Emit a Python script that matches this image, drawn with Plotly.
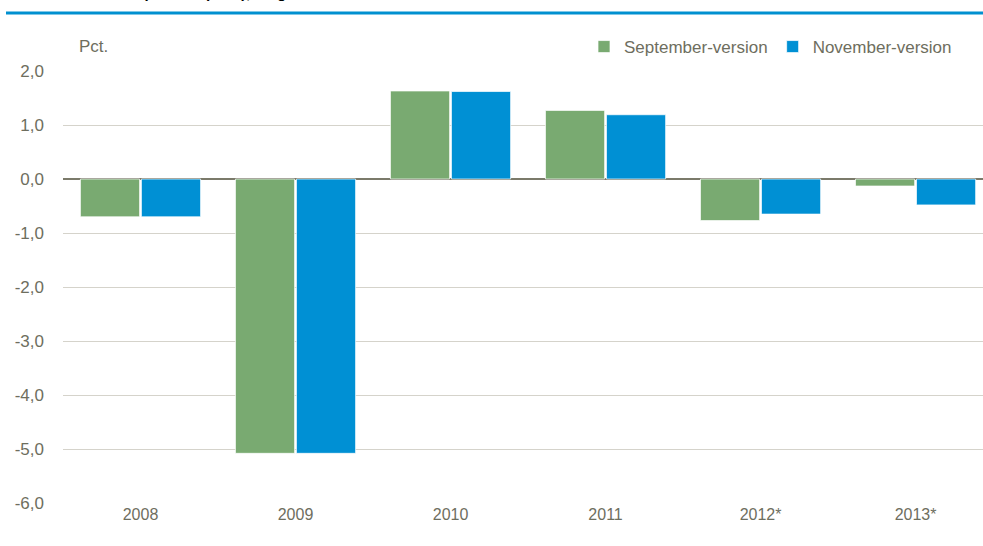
import plotly.graph_objects as go

categories = ["2008", "2009", "2010", "2011", "2012*", "2013*"]
september = [-0.70, -5.08, 1.63, 1.27, -0.77, -0.13]
november = [-0.70, -5.08, 1.62, 1.19, -0.65, -0.48]
y_ticks = [2, 1, 0, -1, -2, -3, -4, -5, -6]
y_tick_labels = ["2,0", "1,0", "0,0", "-1,0", "-2,0", "-3,0", "-4,0", "-5,0", "-6,0"]

GREEN = "#79AA71"
BLUE = "#0090D4"
TXT = "#6E6E5E"
FONT = "Liberation Sans Narrow, Arial Narrow, Liberation Sans, Arial, sans-serif"

fig = go.Figure()
fig.add_trace(go.Bar(x=categories, y=september, name="September-version",
                     marker=dict(color=GREEN, line=dict(color="rgba(255,255,255,0.7)", width=1))))
fig.add_trace(go.Bar(x=categories, y=november, name="November-version",
                     marker=dict(color=BLUE, line=dict(color="rgba(255,255,255,0.7)", width=1))))

fig.update_layout(
    width=983, height=546,
    margin=dict(l=63, r=0, t=71, b=43),
    paper_bgcolor="white", plot_bgcolor="white",
    barmode="group", bargap=0.213, bargroupgap=0.03,
    font=dict(family=FONT, color=TXT, size=16),
    showlegend=True,
    legend=dict(orientation="h", x=(584 - 63) / 920, xanchor="left", y=1 + (71 - 47) / 432, yanchor="middle",
                font=dict(size=17, color=TXT), traceorder="normal", entrywidthmode="pixels",
                bgcolor="rgba(0,0,0,0)"),
    xaxis=dict(range=[-0.5, 5.435], showgrid=False, showline=False, ticks="",
               tickfont=dict(size=16, color=TXT), fixedrange=True),
    yaxis=dict(range=[-6, 2], tickvals=y_ticks, ticktext=y_tick_labels,
               showgrid=True, gridcolor="#D5D3CB", gridwidth=1,
               zeroline=True, zerolinecolor="#7B7A6A", zerolinewidth=2,
               showline=False, ticks="", ticklabelstandoff=18,
               tickfont=dict(size=17, color=TXT)),
    annotations=[
        dict(text="Pct.", xref="paper", yref="paper", x=(77 - 63) / 920, y=1 + (71 - 47) / 432,
             xanchor="left", yanchor="middle", showarrow=False, font=dict(size=17, color=TXT)),
        dict(text="<b>Bruttonationalprodukt (BNP), årlig realvækst</b>", xref="paper", yref="paper",
             x=(40 - 63) / 920, y=1 + (71 - 3) / 432, xanchor="left", yanchor="bottom",
             showarrow=False, font=dict(size=15, color="black", family="Liberation Sans, Arial, sans-serif")),
    ],
    shapes=[
        dict(type="line", xref="paper", yref="paper", x0=(6 - 63) / 920, x1=1.01,
             y0=1 + (71 - 13) / 432, y1=1 + (71 - 13) / 432,
             line=dict(color="#0090D0", width=3)),
    ],
)

fig.write_html("out.html", config={"displayModeBar": False})

with open("out.html", "r", encoding="utf-8") as f:
    html = f.read()
html = html.replace("<head>", "<head><style>html,body{margin:0;padding:0;overflow:hidden;}</style>", 1)
with open("out.html", "w", encoding="utf-8") as f:
    f.write(html)
